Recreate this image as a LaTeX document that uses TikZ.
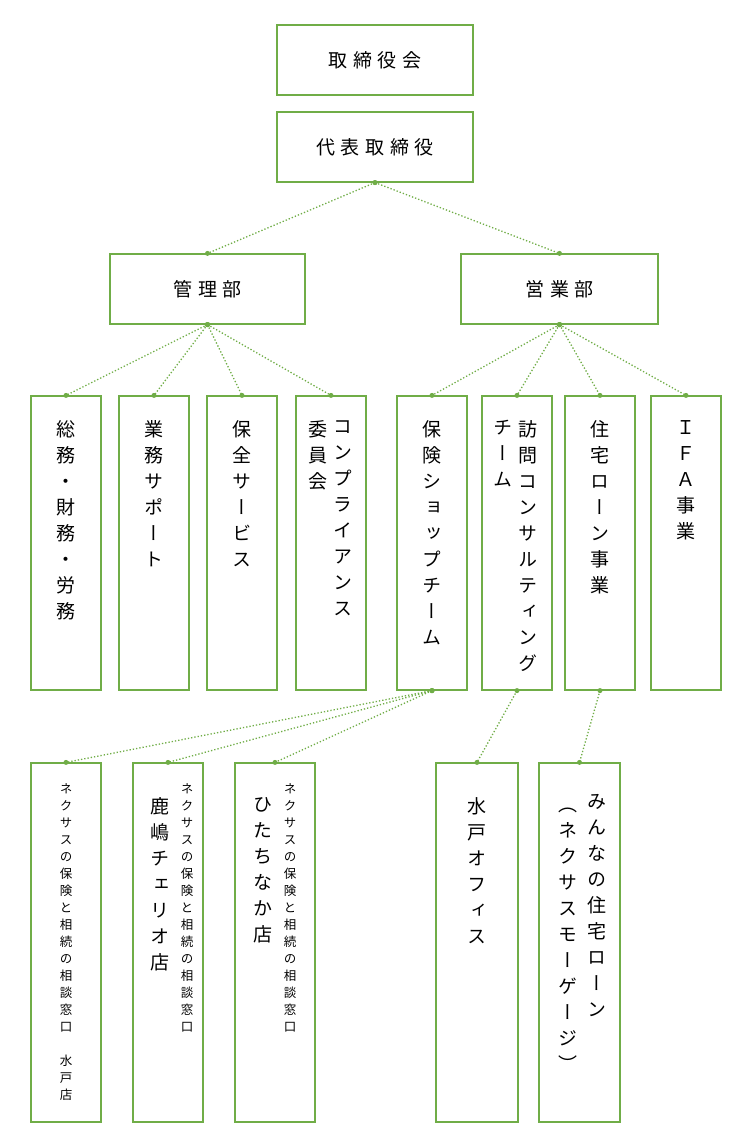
\documentclass[tikz,border=0pt]{standalone}
\usepackage{fontspec}
\setmainfont{Noto Sans CJK JP}
\newfontfamily\vjp[Vertical=Alternates]{Noto Sans CJK JP}
\definecolor{leaf}{RGB}{112,173,71}
% vertical text: one character per line
\def\vtend{\vtend}
\newcommand\vtext[1]{\vtloop#1\vtend}
\def\vtloop#1{\ifx#1\vtend\else#1\\\expandafter\vtloop\fi}
% spaced horizontal text
\newcommand\htext[1]{\htloop#1\vtend}
\def\htloop#1{\ifx#1\vtend\else#1\hskip.3em\expandafter\htloop\fi}
\tikzset{
  box/.style={draw=leaf,line width=1.2pt,minimum width=#1,inner sep=0pt},
  big/.style={font=\vjp\fontsize{19}{26}\selectfont,align=center,anchor=north,inner sep=0pt},
  small/.style={font=\vjp\fontsize{12.5}{17}\selectfont,align=center,anchor=north,inner sep=0pt},
  link/.style={leaf,line width=1.3pt,dotted},
  dot/.style={circle,fill=leaf,inner sep=0pt,minimum size=5pt}
}
\begin{document}
\begin{tikzpicture}[x=1pt,y=-1pt]
\useasboundingbox (0,0) rectangle (750,1147);
% top
\node[box=196pt,minimum height=70pt,font=\fontsize{19}{22}\selectfont] (board) at (375,60) {\htext{取締役会}};
\node[box=196pt,minimum height=70pt,font=\fontsize{19}{22}\selectfont] (ceo) at (375,147) {\htext{代表取締役}};
\node[box=195pt,minimum height=70pt,font=\fontsize{19}{22}\selectfont] (kanri) at (207.5,289) {\htext{管理部}};
\node[box=197pt,minimum height=70pt,font=\fontsize{19}{22}\selectfont] (eigyo) at (559.5,289) {\htext{営業部}};
% row 3
\foreach \n/\x in {somu/66,gyomu/154,hozen/242,comp/331,hoken/432,homon/517,jutaku/600,ifa/686}
  \node[box=70pt,minimum height=294pt] (\n) at (\x,543) {};
\node[big] at (66,420) {\vtext{総務・財務・労務}};
\node[big] at (154,420) {\vtext{業務サポート}};
\node[big] at (242,420) {\vtext{保全サービス}};
\node[big] at (343,420) {\vtext{コンプライアンス}};
\node[big] at (318,420) {\vtext{委員会}};
\node[big] at (432,420) {\vtext{保険ショップチーム}};
\node[big] at (528,420) {\vtext{訪問コンサルティング}};
\node[big] at (503,420) {\vtext{チーム}};
\node[big] at (600,420) {\vtext{住宅ローン事業}};
\node[big] at (686,420) {\vtext{ＩＦＡ事業}};
% row 4
\foreach \n/\x/\w in {mito/66/70,kashima/168/70,hitachi/275/80,office/477/82,minna/579.5/81}
  \node[box=\w pt,minimum height=359pt] (\n) at (\x,942.5) {};
\node[small] at (66,783) {\vtext{ネクサスの保険と相続の相談窓口　水戸店}};
\node[small] at (187,783) {\vtext{ネクサスの保険と相続の相談窓口}};
\node[big] at (160,797) {\vtext{鹿嶋チェリオ店}};
\node[small] at (290,783) {\vtext{ネクサスの保険と相続の相談窓口}};
\node[big] at (263,797) {\vtext{ひたちなか店}};
\node[big] at (477,797) {\vtext{水戸オフィス}};
\node[big] at (597,794) {\vtext{みんなの住宅ローン}};
\node[big] at (568,808) {\vtext{（ネクサスモーゲージ）}};
% links
\foreach \p/\c in {ceo/kanri,ceo/eigyo,kanri/somu,kanri/gyomu,kanri/hozen,kanri/comp,
  eigyo/hoken,eigyo/homon,eigyo/jutaku,eigyo/ifa,hoken/mito,hoken/kashima,hoken/hitachi,
  homon/office,jutaku/minna}{
  \draw[link] (\p.south) -- (\c.north);
  \node[dot] at (\p.south) {};
  \node[dot] at (\c.north) {};
}
\end{tikzpicture}
\end{document}
